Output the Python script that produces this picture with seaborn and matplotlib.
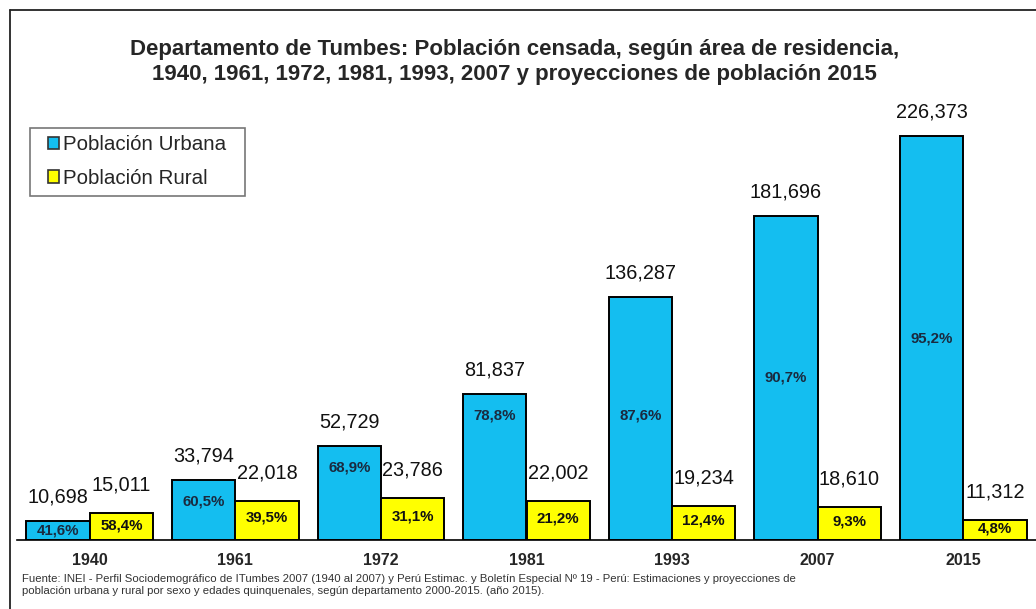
import numpy as np
import pandas as pd
import matplotlib
matplotlib.use("Agg")
import matplotlib.pyplot as plt
from matplotlib.patches import Patch, Rectangle
from matplotlib.lines import Line2D
import seaborn as sns

years = ["1940", "1961", "1972", "1981", "1993", "2007", "2015"]
urbana = [10698, 33794, 52729, 81837, 136287, 181696, 226373]
rural = [15011, 22018, 23786, 22002, 19234, 18610, 11312]
pct_urbana = ["41,6%", "60,5%", "68,9%", "78,8%", "87,6%", "90,7%", "95,2%"]
pct_rural = ["58,4%", "39,5%", "31,1%", "21,2%", "12,4%", "9,3%", "4,8%"]
series = ["Población Urbana", "Población Rural"]

title = ("Departamento de Tumbes: Población censada, según área de residencia,\n"
         "1940, 1961, 1972, 1981, 1993, 2007 y proyecciones de población 2015")
fuente = ("Fuente: INEI - Perfil Sociodemográfico de ITumbes 2007 (1940 al 2007) y Perú Estimac. "
          "y Boletín Especial Nº 19 - Perú: Estimaciones y proyecciones de\n"
          "población urbana y rural por sexo y edades quinquenales, según departamento 2000-2015. (año 2015).")

df = pd.DataFrame({
    "año": years * 2,
    "serie": [series[0]] * len(years) + [series[1]] * len(years),
    "valor": urbana + rural,
})

sns.set_style("white")
plt.rcParams['font.family'] = ['Liberation Sans', 'DejaVu Sans']

colors = {series[0]: "#14BEF0", series[1]: "#FFFF00"}

fig = plt.figure(figsize=(10.36, 6.09), dpi=100)
ax = fig.add_axes([17 / 1036, 0.1133, 1 - 17 / 1036, 0.7325])

sns.barplot(data=df, x="año", y="valor", hue="serie", order=years, hue_order=series,
            palette=colors, width=0.87, edgecolor="black", linewidth=1.4,
            saturation=1, legend=False, ax=ax)

ax.set_ylim(0, 250000)
ax.set_xlim(-0.5, len(years) - 0.5)
ax.set_xlabel("")
ax.set_ylabel("")
ax.set_yticks([])
for s in ["top", "right", "left"]:
    ax.spines[s].set_visible(False)
ax.spines["bottom"].set_color("black")
ax.spines["bottom"].set_linewidth(1.2)
ax.tick_params(axis="x", which="major", length=0, pad=9)
ax.set_xticks(np.arange(len(years) + 1) - 0.5, minor=True)
ax.tick_params(axis="x", which="minor", length=5, width=1, color="black", direction="out")
for lbl in ax.get_xticklabels():
    lbl.set_fontweight("bold")
    lbl.set_fontsize(11.5)

# value labels
cont_u, cont_r = ax.containers[0], ax.containers[1]
for bar, v, p in zip(cont_u, urbana, pct_urbana):
    cx = bar.get_x() + bar.get_width() / 2
    ax.annotate(f"{v:,}", (cx, v), xytext=(0, 24), textcoords="offset pixels",
                ha="center", va="center", fontsize=14.3, color="#111111")
    ypos = max(v / 2, min(v - 12000, max(0.45 * v, 70000)))
    ax.text(cx, ypos, p, ha="center", va="center", fontsize=10.8,
            fontweight="bold", color="#1a2a3f")
for bar, v, p in zip(cont_r, rural, pct_rural):
    cx = bar.get_x() + bar.get_width() / 2
    ax.annotate(f"{v:,}", (cx, v), xytext=(0, 28), textcoords="offset pixels",
                ha="center", va="center", fontsize=14.3, color="#111111")
    ax.text(cx, v * 0.56, p, ha="center", va="center", fontsize=10.8,
            fontweight="bold", color="#111111")

# legend
fig.add_artist(Rectangle((30 / 1036, 1 - 196 / 609), 215 / 1036, 68 / 609,
                         transform=fig.transFigure, facecolor="white",
                         edgecolor="#777777", linewidth=1.2))
handles = [Patch(facecolor=colors[s], edgecolor="#333333", linewidth=1.2) for s in series]
leg = fig.legend(handles, series, loc="upper left", bbox_to_anchor=(48 / 1036, 1 - 135 / 609),
                 fontsize=14.8, frameon=False, handlelength=0.55,
                 handleheight=0.55, handletextpad=0.2, borderpad=0, labelspacing=0.72,
                 borderaxespad=0)

fig.text(0.497, 1 - 62 / 609, title, ha="center", va="center", fontsize=16,
         fontweight="bold", linespacing=1.25)
fig.text(22 / 1036, 1 - 585 / 609, fuente, ha="left", va="center", fontsize=8.2,
         color="#333333", linespacing=1.25)

# outer frame
fig.add_artist(Line2D([10 / 1036, 10 / 1036], [0, 1 - 10 / 609], transform=fig.transFigure,
                      color="#222222", linewidth=1.3))
fig.add_artist(Line2D([10 / 1036, 1], [1 - 10 / 609, 1 - 10 / 609], transform=fig.transFigure,
                      color="#222222", linewidth=1.3))

fig.savefig("out.png", dpi=100)
